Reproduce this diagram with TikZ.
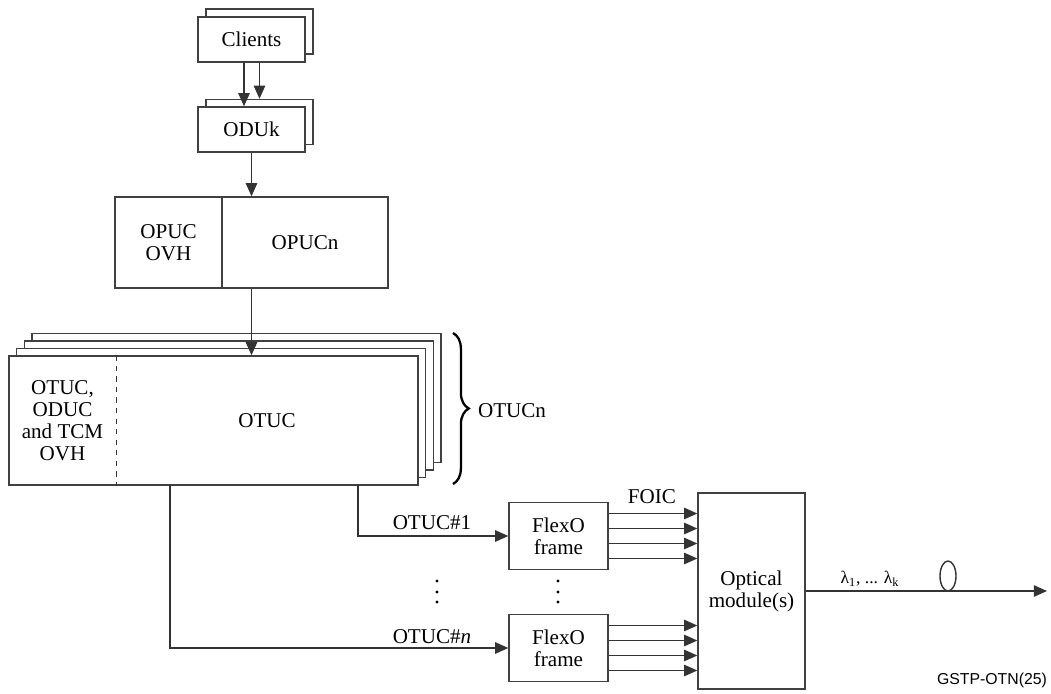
\documentclass[tikz,border=0pt]{standalone}
\usepackage{fontspec}
\setmainfont{Liberation Serif}
\setsansfont{Liberation Sans}
\usetikzlibrary{arrows.meta,decorations.pathreplacing}

\tikzset{
  box/.style={draw=black!75,line width=0.8pt,fill=white,inner sep=0pt,align=center},
  lbl/.style={inner sep=0pt,align=center},
  arr/.style={draw=black!80,line width=0.8pt,-{Triangle[length=7.5pt,width=6.5pt]}},
  ln/.style={draw=black!80,line width=0.8pt}
}

\begin{document}
\begin{tikzpicture}[x=0.02cm,y=-0.02cm,font=\fontsize{12}{12.5}\selectfont]
\useasboundingbox (0,0) rectangle (1051,693);
% clients and ODUk (two stacked boxes each)
\node[box,minimum width=107*0.02cm,minimum height=45*0.02cm] (clientsb) at (259.5,31.5) {};
\node[box,minimum width=107*0.02cm,minimum height=45*0.02cm] (clients) at (251.5,39.5) {Clients};
\node[box,minimum width=107*0.02cm,minimum height=45*0.02cm] (odub) at (259.5,122) {};
\node[box,minimum width=107*0.02cm,minimum height=45*0.02cm] (odu) at (251.5,129.5) {ODUk};
\draw[arr] ([xshift=-0.15cm]clients.south) -- ([xshift=-0.15cm]odu.north);
\draw[arr] (clients.south -| odub.north) -- (odub.north);
% OPUCn
\node[box,minimum width=107*0.02cm,minimum height=91*0.02cm] (opuh) at (168.5,242.5) {OPUC\\OVH};
\node[box,minimum width=166*0.02cm,minimum height=91*0.02cm] (opucn) at (305,242.5) {OPUCn};
\draw[arr] (odu.south) -- (odu.south |- opucn.north);
% OTUCn stack
\foreach \i in {3,2,1}
  \node[box,minimum width=409*0.02cm,minimum height=129*0.02cm] at (213.5+7.7*\i,420.5-7.5*\i) {};
\node[box,minimum width=409*0.02cm,minimum height=129*0.02cm] (otuc) at (213.5,420.5) {};
\node[lbl,minimum width=107*0.02cm] (otuh) at (62.5,420.5) {OTUC,\\ODUC\\and TCM\\OVH};
\node[lbl] (otucl) at (267,420.5) {OTUC};
\draw[ln,dashed] (otuh.east |- otuc.north) -- (otuh.east |- otuc.south);
\draw[arr] (opucn.south -| odu.south) -- (otuc.north -| odu.south);
\draw[line width=1.3pt,decorate,decoration={brace,amplitude=9pt}] (453,333) -- (453,484);
\node[lbl] (otucn) at (512,411) {OTUCn};
% FlexO frames
\node[box,minimum width=99*0.02cm,minimum height=67*0.02cm] (flex1) at (558.5,536) {FlexO\\frame};
\node[box,minimum width=99*0.02cm,minimum height=67*0.02cm] (flexn) at (558.5,648) {FlexO\\frame};
\coordinate (c1) at (358,485);
\coordinate (cn) at (170,485);
\draw[arr] (c1) |- (flex1.west);
\draw[arr] (cn) |- (flexn.west);
\node[lbl] (l1) at (432,523) {OTUC\#1};
\node[lbl] (ln) at (432,637) {OTUC\#\textit{n}};
\foreach \y in {581,592,602} {
  \fill (437,\y) circle (1.7*0.02cm);
  \fill (558,\y) circle (1.7*0.02cm);
}
% optical module
\node[box,minimum width=107*0.02cm,minimum height=196*0.02cm] (optical) at (751.5,591) {Optical\\module(s)};
\foreach \d in {-22.5,-7.5,7.5,22.5} {
  \draw[arr] ([yshift=\d*0.02cm]flex1.east) coordinate (s) -- (s -| optical.west);
  \draw[arr] ([yshift=\d*0.02cm]flexn.east) coordinate (s) -- (s -| optical.west);
}
\node[lbl] (foic) at (652,497) {FOIC};
\coordinate (fiber) at (1047,591);
\draw[arr] (optical.east) -- (fiber);
\node[lbl,font=\fontsize{10}{11}\selectfont] (lam) at (870,579) {λ\textsubscript{1}, ... λ\textsubscript{k}};
\draw[ln] (948,576) ellipse (8 and 15);
\node[lbl,font=\sffamily\fontsize{9}{10}\selectfont] (ref) at (992,680) {GSTP-OTN(25)};
\end{tikzpicture}
\end{document}
